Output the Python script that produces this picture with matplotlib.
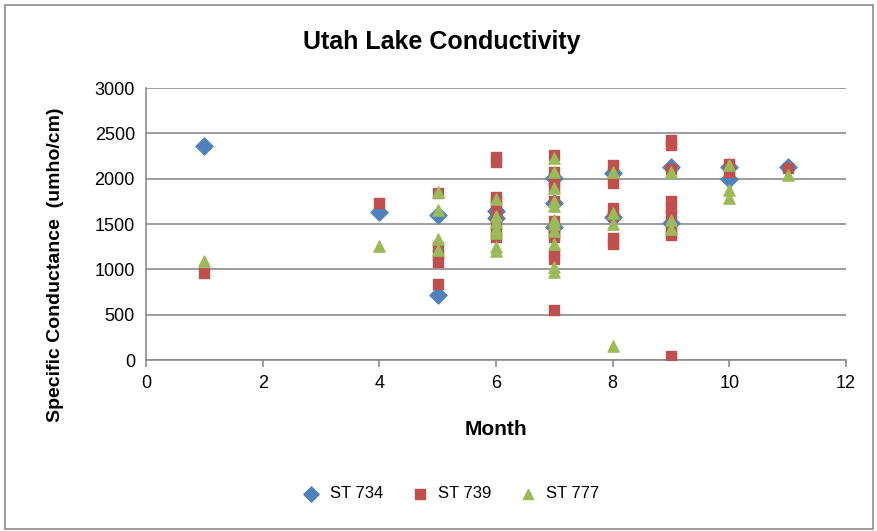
import matplotlib.pyplot as plt
from matplotlib.patches import Rectangle

# monthly specific conductance readings per station
st734_month = [1, 4, 5, 5, 6, 6, 7, 7, 7, 8, 8, 9, 9, 10, 10, 11]
st734_cond = [2360, 1630, 1600, 720, 1640, 1570, 2005, 1730, 1470, 2060, 1580, 2130, 1510, 2130, 2000, 2130]

st739_month = [1, 4, 5, 5, 5, 5, 5,
               6, 6, 6, 6, 6, 6, 6, 6, 6,
               7, 7, 7, 7, 7, 7, 7, 7, 7, 7, 7, 7,
               8, 8, 8, 8, 8, 8,
               9, 9, 9, 9, 9, 9, 9, 9, 9,
               10, 10, 11]
st739_cond = [960, 1730, 1840, 1250, 1160, 1080, 840,
              2240, 2190, 1800, 1760, 1650, 1600, 1500, 1400, 1360,
              2260, 2070, 1960, 1900, 1760, 1530, 1450, 1400, 1360, 1180, 1120, 550,
              2150, 1950, 1680, 1600, 1350, 1280,
              2430, 2370, 2110, 1750, 1680, 1600, 1420, 1380, 40,
              2160, 2080, 2120]

st777_month = [1, 4, 5, 5, 5, 5,
               6, 6, 6, 6, 6, 6, 6,
               7, 7, 7, 7, 7, 7, 7, 7, 7, 7, 7,
               8, 8, 8, 8,
               9, 9, 9,
               10, 10, 10, 11]
st777_cond = [1090, 1260, 1850, 1660, 1330, 1210,
              1780, 1590, 1520, 1450, 1400, 1250, 1200,
              2230, 2070, 1900, 1750, 1700, 1550, 1500, 1420, 1280, 1030, 970,
              2080, 1620, 1500, 150,
              2080, 1540, 1450,
              2150, 1880, 1790, 2040]

plt.rcParams['font.family'] = ['Liberation Sans', 'DejaVu Sans']

fig = plt.figure(figsize=(8.77, 5.31), dpi=100)
ax = fig.add_axes([0.1665, 0.322, 0.798, 0.512])

ax.scatter(st734_month, st734_cond, marker='D', s=75, color='#4F81BD', label='ST 734', zorder=3)
ax.scatter(st739_month, st739_cond, marker='s', s=60, color='#C0504D', label='ST 739', zorder=3)
ax.scatter(st777_month, st777_cond, marker='^', s=65, color='#9BBB59', label='ST 777', zorder=3)

ax.set_xlim(0, 12)
ax.set_ylim(0, 3000)
ax.set_xticks(range(0, 13, 2))
ax.set_yticks(range(0, 3001, 500))
ax.yaxis.grid(True, color='#8C8C8C', linewidth=1.2)
ax.set_axisbelow(True)
for side in ['top', 'right']:
    ax.spines[side].set_visible(False)
for side in ['left', 'bottom']:
    ax.spines[side].set_color('#8C8C8C')
    ax.spines[side].set_linewidth(1.2)
ax.tick_params(axis='x', colors='#8C8C8C', length=5, width=1.2, labelcolor='black', labelsize=13, pad=6)
ax.tick_params(axis='y', length=0, labelsize=13, pad=8)

fig.text(0.504, 0.921, 'Utah Lake Conductivity', fontsize=18, fontweight='bold',
         ha='center', va='center')
ax.set_xlabel('Month', fontsize=15, fontweight='bold')
ax.xaxis.set_label_coords(0.5, -0.22)
ax.set_ylabel('Specific Conductance  (umho/cm)', fontsize=14, fontweight='bold')
ax.yaxis.set_label_coords(-0.117, 0.35)

fig.legend(loc='center', bbox_to_anchor=(0.51, 0.07), ncol=3, frameon=False,
           fontsize=12, handletextpad=0.1, columnspacing=1.2, markerscale=0.9)

# outer chart frame
fig.patches.append(Rectangle((0.006, 0.004), 0.99, 0.987, transform=fig.transFigure,
                             fill=False, edgecolor='#8C8C8C', linewidth=1.2))

fig.savefig('out.png', dpi=100)
